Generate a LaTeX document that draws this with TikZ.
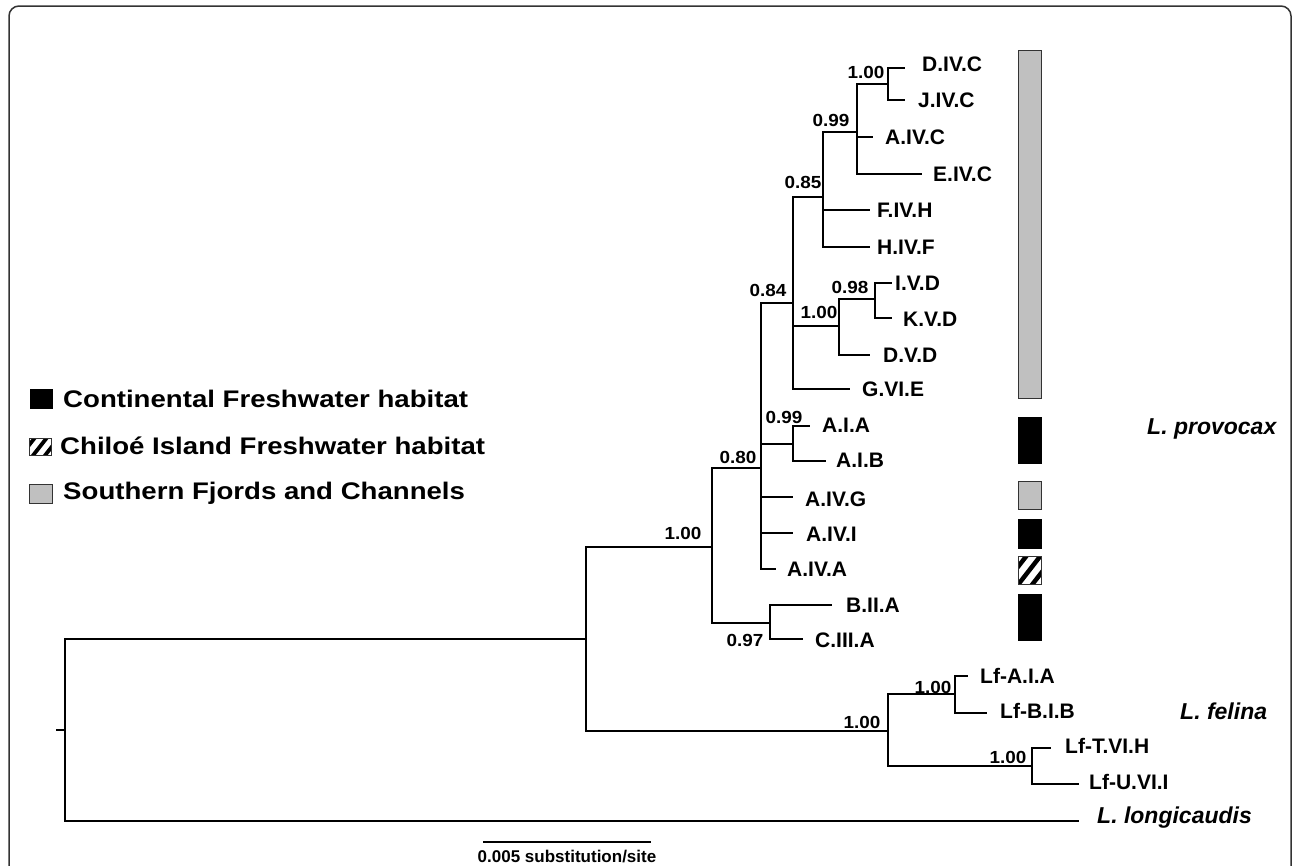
\documentclass[tikz,border=0pt]{standalone}
\usepackage{fontspec}
\setmainfont{Liberation Sans}
\definecolor{barGray}{HTML}{C0C0C0}
\definecolor{frameGray}{HTML}{333333}
\begin{document}
\begin{tikzpicture}[x=1pt,y=-1pt,
  br/.style={line width=2.6pt, line join=miter},
  leaf/.style={anchor=west, inner sep=0pt, font=\fontsize{21}{21}\selectfont\bfseries},
  sup/.style={inner sep=0pt, xscale=1.08, font=\fontsize{17.5}{17.5}\selectfont\bfseries},
  species/.style={anchor=west, inner sep=0pt, font=\fontsize{23}{23}\selectfont\bfseries\itshape},
  legtext/.style={anchor=west, inner sep=0pt, xscale=1.15, font=\fontsize{24}{24}\selectfont\bfseries},
  graybox/.style={fill=barGray, draw=frameGray, line width=1pt},
  blackbox/.style={fill=black, draw=black, line width=1pt},
  hatchbox/.style={draw=frameGray, line width=1pt}]
\useasboundingbox (0,0) rectangle (1295,865);
% frame
\draw[line width=1.5pt, frameGray, rounded corners=10pt] (9,866) -- (9,6) -- (1291,6) -- (1291,866);

% ---- tree coordinates ----
\coordinate (r0) at (56,730);
\coordinate (R) at (65,730);
\coordinate (n1) at (586,639);
\coordinate (tLg) at (1079,821);
\coordinate (n2) at (712,547);
\coordinate (nF) at (888,731);
\coordinate (n080) at (761,468);
\coordinate (n097) at (770,623);
\coordinate (tBIIA) at (832,605);
\coordinate (tCIIIA) at (803,639);
\coordinate (n084) at (793,303);
\coordinate (n099b) at (793,444);
\coordinate (tAIVG) at (793,497);
\coordinate (tAIVI) at (793,533);
\coordinate (tAIVA) at (776,569);
\coordinate (tAIA) at (810,426);
\coordinate (tAIB) at (826,461);
\coordinate (n085) at (823,197);
\coordinate (n100b) at (839,326);
\coordinate (tGVIE) at (850,389);
\coordinate (n098) at (875,299);
\coordinate (tDVD) at (870,355);
\coordinate (tIVD) at (892,283);
\coordinate (tKVD) at (892,318);
\coordinate (n099a) at (857,132);
\coordinate (tFIVH) at (870,210);
\coordinate (tHIVF) at (870,247);
\coordinate (n100a) at (888,84);
\coordinate (tAIVC) at (873,137);
\coordinate (tEIVC) at (922,174);
\coordinate (tDIVC) at (905,68);
\coordinate (tJIVC) at (905,100);
\coordinate (nF1) at (955,694);
\coordinate (nF2) at (1032,766);
\coordinate (tLfAIA) at (968,676);
\coordinate (tLfBIB) at (987,713);
\coordinate (tLfTVIH) at (1051,748);
\coordinate (tLfUVII) at (1079,784);

% ---- branches ----
\draw[br] (r0) -- (R);
\draw[br] (R) |- (n1);
\draw[br] (R) |- (tLg);
\draw[br] (n1) |- (n2);
\draw[br] (n1) |- (nF);
\draw[br] (n2) |- (n080);
\draw[br] (n2) |- (n097);
\draw[br] (n097) |- (tBIIA);
\draw[br] (n097) |- (tCIIIA);
\draw[br] (n080) |- (n084);
\draw[br] (n080) |- (n099b);
\draw[br] (n080) |- (tAIVG);
\draw[br] (n080) |- (tAIVI);
\draw[br] (n080) |- (tAIVA);
\draw[br] (n099b) |- (tAIA);
\draw[br] (n099b) |- (tAIB);
\draw[br] (n084) |- (n085);
\draw[br] (n084) |- (n100b);
\draw[br] (n084) |- (tGVIE);
\draw[br] (n100b) |- (n098);
\draw[br] (n100b) |- (tDVD);
\draw[br] (n098) |- (tIVD);
\draw[br] (n098) |- (tKVD);
\draw[br] (n085) |- (n099a);
\draw[br] (n085) |- (tFIVH);
\draw[br] (n085) |- (tHIVF);
\draw[br] (n099a) |- (n100a);
\draw[br] (n099a) |- (tAIVC);
\draw[br] (n099a) |- (tEIVC);
\draw[br] (n100a) |- (tDIVC);
\draw[br] (n100a) |- (tJIVC);
\draw[br] (nF) |- (nF1);
\draw[br] (nF) |- (nF2);
\draw[br] (nF1) |- (tLfAIA);
\draw[br] (nF1) |- (tLfBIB);
\draw[br] (nF2) |- (tLfTVIH);
\draw[br] (nF2) |- (tLfUVII);

% ---- leaf labels ----
\node[leaf] (lDIVC) at (922,64) {D.IV.C};
\node[leaf] (lJIVC) at (918,100) {J.IV.C};
\node[leaf] (lAIVC) at (885,137) {A.IV.C};
\node[leaf] (lEIVC) at (933,174) {E.IV.C};
\node[leaf] (lFIVH) at (877,210) {F.IV.H};
\node[leaf] (lHIVF) at (877,247) {H.IV.F};
\node[leaf] (lIVD) at (895,283) {I.V.D};
\node[leaf] (lKVD) at (903,319) {K.V.D};
\node[leaf] (lDVD) at (883,355) {D.V.D};
\node[leaf] (lGVIE) at (862,389) {G.VI.E};
\node[leaf] (lAIA) at (822,425) {A.I.A};
\node[leaf] (lAIB) at (836,460) {A.I.B};
\node[leaf] (lAIVG) at (805,499) {A.IV.G};
\node[leaf] (lAIVI) at (806,534) {A.IV.I};
\node[leaf] (lAIVA) at (787,569) {A.IV.A};
\node[leaf] (lBIIA) at (846,605) {B.II.A};
\node[leaf] (lCIIIA) at (815,640) {C.III.A};
\node[leaf] (lLfAIA) at (980,676) {Lf-A.I.A};
\node[leaf] (lLfBIB) at (1000,711) {Lf-B.I.B};
\node[leaf] (lLfTVIH) at (1065,746) {Lf-T.VI.H};
\node[leaf] (lLfUVII) at (1089,782) {Lf-U.VI.I};

% ---- support values ----
\node[sup] (s100a) at (866,72) {1.00};
\node[sup] (s099a) at (831,120) {0.99};
\node[sup] (s085) at (803,182) {0.85};
\node[sup] (s084) at (768,290) {0.84};
\node[sup] (s098) at (850,287) {0.98};
\node[sup] (s100b) at (819,312) {1.00};
\node[sup] (s099b) at (784,417) {0.99};
\node[sup] (s080) at (738,457) {0.80};
\node[sup] (s100n2) at (683,533) {1.00};
\node[sup] (s097) at (745,640) {0.97};
\node[sup] (s100F) at (862,722) {1.00};
\node[sup] (s100F1) at (933,687) {1.00};
\node[sup] (s100F2) at (1008,757) {1.00};

% ---- species names ----
\node[species] (spP) at (1147,429) {L. provocax};
\node[species] (spF) at (1180,711) {L. felina};
\node[species] (spL) at (1097,818) {L. longicaudis};

% ---- habitat bars ----
\draw[graybox] (1018,50) rectangle (1041,398);
\draw[blackbox] (1018,417) rectangle (1041,463);
\draw[graybox] (1018,481) rectangle (1041,509);
\draw[blackbox] (1018,519) rectangle (1041,548);
\begin{scope}
  \clip (1018,556) rectangle (1041,584);
  \foreach \o in {-14,0,14} {
    \draw[line width=4.5pt] ({1015.5+\o},588) -- ({1043.5+\o},552);
  }
\end{scope}
\draw[hatchbox] (1018,556) rectangle (1041,584);
\draw[blackbox] (1018,594) rectangle (1041,640);

% ---- legend ----
\draw[blackbox] (30,389) rectangle (52,408);
\begin{scope}
  \clip (29,438) rectangle (51,455);
  \foreach \o in {-12,0,12} {
    \draw[line width=3.8pt] ({31+\o},458) -- ({49+\o},435);
  }
\end{scope}
\draw[hatchbox] (29,438) rectangle (51,455);
\draw[graybox] (29,484) rectangle (52,503);
\node[legtext] (leg1) at (63,399) {Continental Freshwater habitat};
\node[legtext] (leg2) at (60,446) {Chiloé Island Freshwater habitat};
\node[legtext] (leg3) at (63,493) {Southern Fjords and Channels};

% ---- scale bar ----
\coordinate (sbL) at (483,842);
\coordinate (sbR) at (651,842);
\draw[line width=1.5pt] (sbL) -- (sbR);
\node[inner sep=0pt, font=\fontsize{17}{17}\selectfont\bfseries] (sbT) at (567,856) {0.005 substitution/site};
\end{tikzpicture}
\end{document}
